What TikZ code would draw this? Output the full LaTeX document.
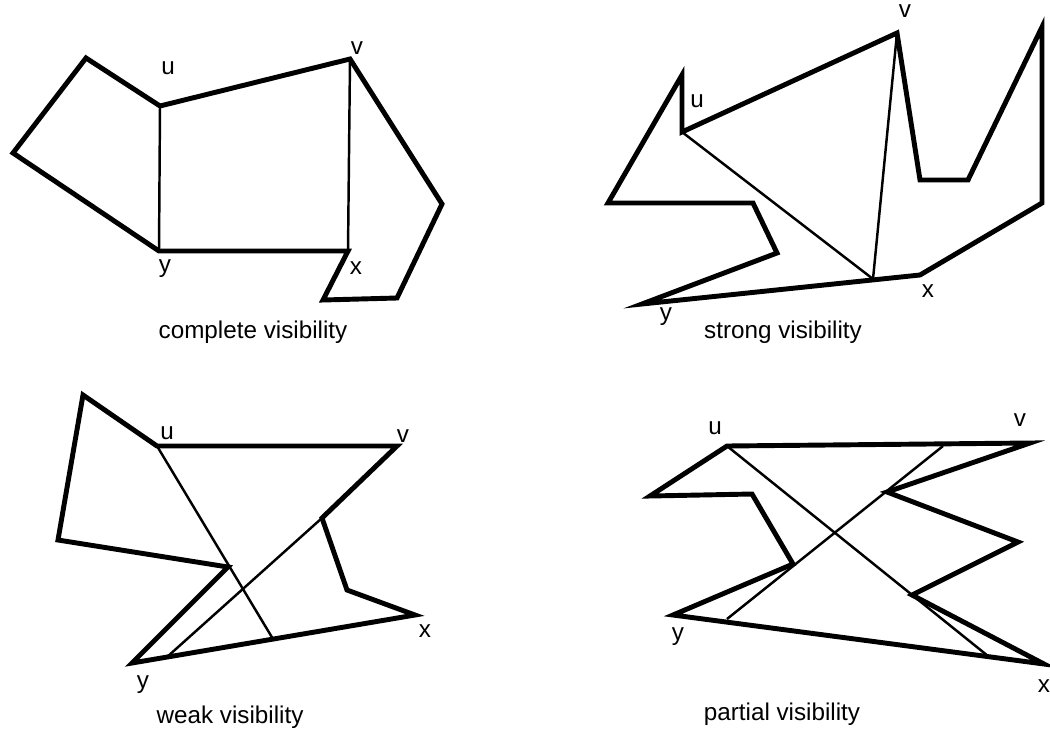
\documentclass[tikz,border=0pt]{standalone}
\usepackage{fontspec}
\setmainfont{Liberation Sans}
\usetikzlibrary{positioning}

\begin{document}
\begin{tikzpicture}[
      x=0.02cm, y=-0.02cm,
      edge/.style={line width=2.8pt, line join=miter, miter limit=25},
      chord/.style={line width=1.4pt},
      lbl/.style={font=\fontsize{13.8}{16}\selectfont, inner sep=0pt, anchor=mid},
      title/.style={font=\fontsize{13.8}{16}\selectfont, inner sep=0pt, anchor=mid}
    ]
    \useasboundingbox (0,0) rectangle (1050,734);

    % complete visibility
    \coordinate (a1) at (86,58);
    \coordinate (u1) at (160,106);
    \coordinate (v1) at (350,59);
    \coordinate (r1) at (442,204);
    \coordinate (s1) at (397,298);
    \coordinate (t1) at (323,300);
    \coordinate (x1) at (348,251);
    \coordinate (y1) at (159,251);
    \coordinate (l1) at (13,153);
    \draw[edge] (a1) -- (u1) -- (v1) -- (r1) -- (s1) -- (t1) -- (x1) -- (y1) -- (l1) -- cycle;
    \draw[chord] (u1) -- (y1);
    \draw[chord] (v1) -- (x1);
    \node[lbl] (lu1) at (168,70) {u};
    \node[lbl] (lv1) at (357,50) {v};
    \node[lbl] (ly1) at (165,268) {y};
    \node[lbl] (lx1) at (356,270) {x};
    \node[title] (c1) at (253,334) {complete visibility};

    % strong visibility
    \coordinate (a2) at (682,75);
    \coordinate (u2) at (682,132);
    \coordinate (v2) at (897,33);
    \coordinate (p2) at (920,180);
    \coordinate (q2) at (968,180);
    \coordinate (r2) at (1042,27);
    \coordinate (s2) at (1042,203);
    \coordinate (x2) at (920,275);
    \coordinate (y2) at (642,304);
    \coordinate (k2) at (777,253);
    \coordinate (m2) at (753,203);
    \coordinate (l2) at (608,203);
    \coordinate (w2) at (873,279);
    \draw[edge] (a2) -- (u2) -- (v2) -- (p2) -- (q2) -- (r2) -- (s2) -- (x2) -- (y2) -- (k2) -- (m2) -- (l2) -- cycle;
    \draw[chord] (u2) -- (w2) -- (v2);
    \node[lbl] (lu2) at (697,103) {u};
    \node[lbl] (lv2) at (905,13) {v};
    \node[lbl] (ly2) at (666,316) {y};
    \node[lbl] (lx2) at (928,293) {x};
    \node[title] (c2) at (783,334) {strong visibility};

    % weak visibility
    \coordinate (a3) at (83,395);
    \coordinate (u3) at (157,446);
    \coordinate (v3) at (397,446);
    \coordinate (m3) at (322,518);
    \coordinate (n3) at (347,590);
    \coordinate (x3) at (415,615);
    \coordinate (y3) at (132,663);
    \coordinate (k3) at (228,567);
    \coordinate (l3) at (58,540);
    \coordinate (w3) at (273,639);
    \coordinate (z3) at (167,657);
    \draw[edge] (a3) -- (u3) -- (v3) -- (m3) -- (n3) -- (x3) -- (y3) -- (k3) -- (l3) -- cycle;
    \draw[chord] (u3) -- (w3);
    \draw[chord] (m3) -- (z3);
    \node[lbl] (lu3) at (167,435) {u};
    \node[lbl] (lv3) at (403,438) {v};
    \node[lbl] (ly3) at (143,684) {y};
    \node[lbl] (lx3) at (425,633) {x};
    \node[title] (c3) at (230,719) {weak visibility};

    % partial visibility
    \coordinate (u4) at (727,446);
    \coordinate (v4) at (1030,443);
    \coordinate (p4) at (887,492);
    \coordinate (q4) at (1018,542);
    \coordinate (r4) at (912,595);
    \coordinate (x4) at (1044,664);
    \coordinate (y4) at (673,615);
    \coordinate (k4) at (793,564);
    \coordinate (m4) at (752,494);
    \coordinate (l4) at (650,496);
    \coordinate (e4) at (943,446);
    \coordinate (f4) at (727,619);
    \coordinate (g4) at (988,656);
    \draw[edge] (u4) -- (v4) -- (p4) -- (q4) -- (r4) -- (x4) -- (y4) -- (k4) -- (m4) -- (l4) -- cycle;
    \draw[chord] (e4) -- (f4);
    \draw[chord] (u4) -- (g4);
    \node[lbl] (lu4) at (715,430) {u};
    \node[lbl] (lv4) at (1020,422) {v};
    \node[lbl] (ly4) at (678,636) {y};
    \node[lbl] (lx4) at (1044,688) {x};
    \node[title] (c4) at (782,716) {partial visibility};
  \end{tikzpicture}
\end{document}
